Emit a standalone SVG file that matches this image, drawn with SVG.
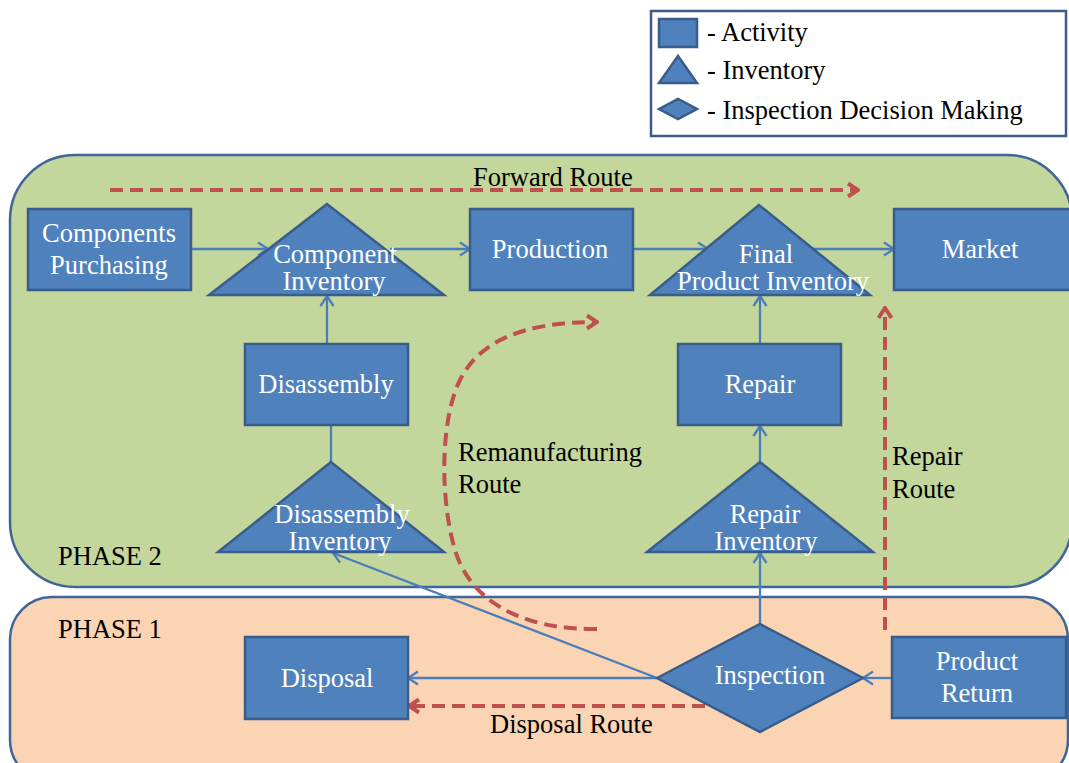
<svg xmlns="http://www.w3.org/2000/svg" width="1069" height="763" viewBox="0 0 1069 763">
  <style>
    .node { fill: #4f81bd; stroke: #385d8a; stroke-width: 2.5; }
    .nt { fill: #ffffff; font-family: "Liberation Serif", "Times New Roman", serif; font-size: 26.5px; text-anchor: middle; }
    .lt { fill: #000000; font-family: "Liberation Serif", "Times New Roman", serif; font-size: 26.5px; }
    .flow { fill: none; stroke: #4a7ebb; stroke-width: 2.3; marker-end: url(#arr); }
    .route { fill: none; stroke: #c0504d; stroke-width: 4; stroke-dasharray: 13 7; marker-end: url(#rarr); }
    .phase { stroke: #3f6699; stroke-width: 2.5; }
  </style>
  <defs>
    <marker id="arr" viewBox="0 0 12 16" refX="11" refY="8" markerWidth="12" markerHeight="16" orient="auto" markerUnits="userSpaceOnUse">
      <path d="M1,1.5 L11,8 L1,14.5" fill="none" stroke="#4a7ebb" stroke-width="2.3"/>
    </marker>
    <marker id="rarr" viewBox="0 0 14 18" refX="12" refY="9" markerWidth="14" markerHeight="18" orient="auto" markerUnits="userSpaceOnUse">
      <path d="M2,2.5 L12,9 L2,15.5" fill="none" stroke="#c0504d" stroke-width="4"/>
    </marker>
  </defs>

  <rect width="1069" height="763" fill="#ffffff"/>

  <!-- phase regions -->
  <g id="phase2">
    <rect class="phase" x="10" y="155" width="1062" height="432" rx="65" ry="65" fill="#c3d69b"/>
    <text class="lt" x="58" y="565">PHASE 2</text>
  </g>
  <g id="phase1">
    <rect class="phase" x="10" y="597" width="1058" height="185" rx="42" ry="42" fill="#fbd4b4"/>
    <text class="lt" x="58" y="638">PHASE 1</text>
  </g>

  <!-- legend -->
  <g id="legend">
    <rect x="651" y="11" width="415" height="125" fill="#ffffff" stroke="#385d8a" stroke-width="2.5"/>
    <rect class="node" x="659" y="19" width="38" height="28"/>
    <text class="lt" x="707" y="41">- Activity</text>
    <polygon class="node" points="678,56 659,83 697,83"/>
    <text class="lt" x="707" y="79">- Inventory</text>
    <polygon class="node" points="659,109 678,99 697,109 678,119"/>
    <text class="lt" x="707" y="119">- Inspection Decision Making</text>
  </g>

  <!-- connectors -->
  <g id="connectors">
    <line class="flow" x1="191" y1="249" x2="268" y2="249"/>
    <line class="flow" x1="390" y1="249" x2="470" y2="249"/>
    <line class="flow" x1="633" y1="249" x2="708" y2="249"/>
    <line class="flow" x1="813" y1="249" x2="894" y2="249"/>
    <line class="flow" x1="327" y1="344" x2="327" y2="296"/>
    <line class="flow" x1="331" y1="462" x2="331" y2="409"/>
    <line class="flow" x1="760" y1="344" x2="760" y2="296"/>
    <line class="flow" x1="760" y1="462" x2="760" y2="426"/>
    <line class="flow" x1="760" y1="624" x2="760" y2="553"/>
    <line class="flow" x1="657" y1="678" x2="333" y2="553"/>
    <line class="flow" x1="657" y1="678" x2="408" y2="678"/>
    <line class="flow" x1="892" y1="678" x2="863" y2="678"/>

    <path class="route" d="M110,190 L858,190"/>
    <path class="route" d="M597,629 C520,630 470,600 455,550 C440,500 440,420 460,380 C480,340 525,322 597,322"/>
    <path class="route" d="M885,630 L885,308"/>
    <path class="route" d="M705,706 L409,706"/>

    <text class="lt" x="473" y="186">Forward Route</text>
    <text class="lt" x="458" y="461">Remanufacturing</text>
    <text class="lt" x="458" y="493">Route</text>
    <text class="lt" x="892" y="465">Repair</text>
    <text class="lt" x="892" y="498">Route</text>
    <text class="lt" x="490" y="733">Disposal Route</text>
  </g>

  <!-- nodes -->
  <g id="components-purchasing">
    <rect class="node" x="28" y="209" width="163" height="81"/>
    <text class="nt" x="109" y="242">Components</text>
    <text class="nt" x="109" y="274">Purchasing</text>
  </g>
  <g id="component-inventory">
    <polygon class="node" points="327,204 209,295 444,295"/>
    <text class="nt" x="335" y="263">Component</text>
    <text class="nt" x="334" y="290">Inventory</text>
  </g>
  <g id="production">
    <rect class="node" x="470" y="209" width="163" height="81"/>
    <text class="nt" x="550" y="258">Production</text>
  </g>
  <g id="final-product-inventory">
    <polygon class="node" points="759,205 650,295 870,295"/>
    <text class="nt" x="766" y="263">Final</text>
    <text class="nt" x="773" y="290">Product Inventory</text>
  </g>
  <g id="market">
    <rect class="node" x="894" y="209" width="180" height="81"/>
    <text class="nt" x="980" y="258">Market</text>
  </g>
  <g id="disassembly">
    <rect class="node" x="245" y="344" width="163" height="81"/>
    <text class="nt" x="326" y="393">Disassembly</text>
  </g>
  <g id="disassembly-inventory">
    <polygon class="node" points="331,462 218,552 444,552"/>
    <text class="nt" x="342" y="523">Disassembly</text>
    <text class="nt" x="340" y="550">Inventory</text>
  </g>
  <g id="repair">
    <rect class="node" x="678" y="344" width="163" height="81"/>
    <text class="nt" x="760" y="393">Repair</text>
  </g>
  <g id="repair-inventory">
    <polygon class="node" points="760,462 647,552 873,552"/>
    <text class="nt" x="765" y="523">Repair</text>
    <text class="nt" x="766" y="550">Inventory</text>
  </g>
  <g id="disposal">
    <rect class="node" x="245" y="637" width="163" height="82"/>
    <text class="nt" x="327" y="687">Disposal</text>
  </g>
  <g id="inspection">
    <polygon class="node" points="657,678 760,624 863,678 760,732"/>
    <text class="nt" x="770" y="684">Inspection</text>
  </g>
  <g id="product-return">
    <rect class="node" x="892" y="637" width="174" height="81"/>
    <text class="nt" x="977" y="670">Product</text>
    <text class="nt" x="977" y="702">Return</text>
  </g>
</svg>
